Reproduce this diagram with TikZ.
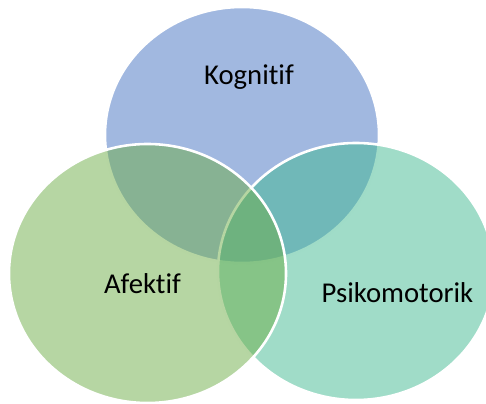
\documentclass[tikz,border=0pt]{standalone}
\usepackage{fontspec}
\setmainfont[Ligatures={NoCommon}]{Carlito}
\usetikzlibrary{positioning}
\definecolor{kogblue}{RGB}{67,113,193}
\definecolor{afgreen}{RGB}{109,173,71}
\definecolor{psiteal}{RGB}{65,185,145}
\tikzset{
    % Half transparent fill with an opaque white rim
    venn set/.style={fill=#1, fill opacity=0.5, draw=white, draw opacity=1,
        line width=2.2pt},
%
    % Labels inside the sets
    set label/.style={anchor=base, text=black, font=\fontsize{24.5}{28}\selectfont}}

\begin{document}
\begin{tikzpicture}[x=0.03cm, y=-0.03cm]

\useasboundingbox (0,0) rectangle (486,404);

\path[venn set=kogblue] (242,135) ellipse [x radius=137, y radius=128];
\path[venn set=psiteal] (356,271.5) ellipse [x radius=138, y radius=128.5];
\path[venn set=afgreen] (147.5,273.5) ellipse [x radius=138.5, y radius=129.5];

\node (kognitif) [set label] at (249,85) {Kognitif};
\node (afektif) [set label] at (142.5,293) {Afektif};
\node (psikomotorik) [set label] at (397.5,302) {Psikomotorik};

\end{tikzpicture}
\end{document}
